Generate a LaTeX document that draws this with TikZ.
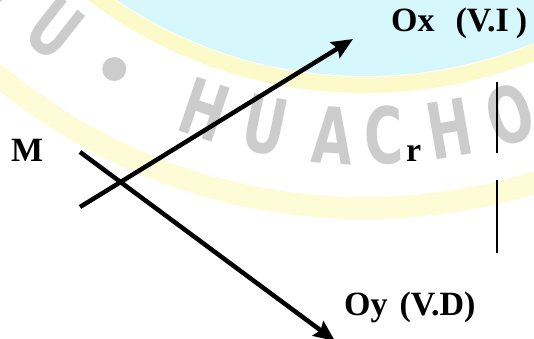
\documentclass[tikz,border=0pt]{standalone}
\usepackage{fontspec}
\setmainfont{Liberation Serif}
\newfontfamily\wmfont{DejaVu Sans}
\usetikzlibrary{arrows.meta,calc}
\definecolor{wmcyan}{RGB}{214,247,252}
\definecolor{wmyellow}{RGB}{252,250,200}
\definecolor{wmyellowb}{RGB}{253,252,214}
\definecolor{wmgray}{RGB}{204,204,204}
\begin{document}
\begin{tikzpicture}[x=1pt,y=-1pt,
  lbl/.style={font=\fontsize{34}{40}\selectfont\bfseries, inner sep=0pt, anchor=base west},
  axis/.style={line width=4.5pt, -{Stealth[length=21pt,width=18pt,inset=3pt]}},
  vbar/.style={line width=1.5pt},
  wm/.style={font=\wmfont\bfseries\fontsize{78}{86}\selectfont, text=wmgray, inner sep=0pt, xscale=0.68}]
\useasboundingbox (0,0) rectangle (534,338);
\begin{scope}
  \clip (0,0) rectangle (534,338);
  \coordinate (wc) at (365,-367);
  \fill[wmcyan] (wc) circle[radius=443];
  \draw[wmyellow, line width=16pt] (wc) circle[radius=452];
  \draw[wmyellowb, line width=22pt] (wc) circle[radius=575];
  \foreach \a/\t/\n in {136.5/N/w1, 128.1/U/w2, 108.65/H/w3, 101.5/U/w4, 93.65/A/w5, 87.8/C/w6, 80.3/H/w7, 73.3/O/w8}
    \node[rotate=90-\a, wm] (\n) at ($(wc)+(\a:503)$) {\t};
  \fill[wmgray] ($(wc)+(119.9:503)$) circle[radius=12];
\end{scope}
\coordinate (p1) at (80,207);
\coordinate (p2) at (353,39);
\coordinate (q1) at (80,152);
\coordinate (q2) at (335,341);
\coordinate (v1) at (497,82);
\coordinate (v2) at (497,153);
\coordinate (v3) at (497,180);
\coordinate (v4) at (497,253);
\draw[axis] (p1) -- (p2);
\draw[axis] (q1) -- (q2);
\draw[vbar] (v1) -- (v2);
\draw[vbar] (v3) -- (v4);
\node[lbl] (M) at (11,161) {M};
\node[lbl] (r) at (406,161) {r};
\node[lbl] (ox) at (391,31) {Ox\hspace{21pt}(V.I\hspace{7pt})};
\node[lbl] (oy) at (344,315) {Oy\hspace{12pt}(V.D)};
\end{tikzpicture}
\end{document}
